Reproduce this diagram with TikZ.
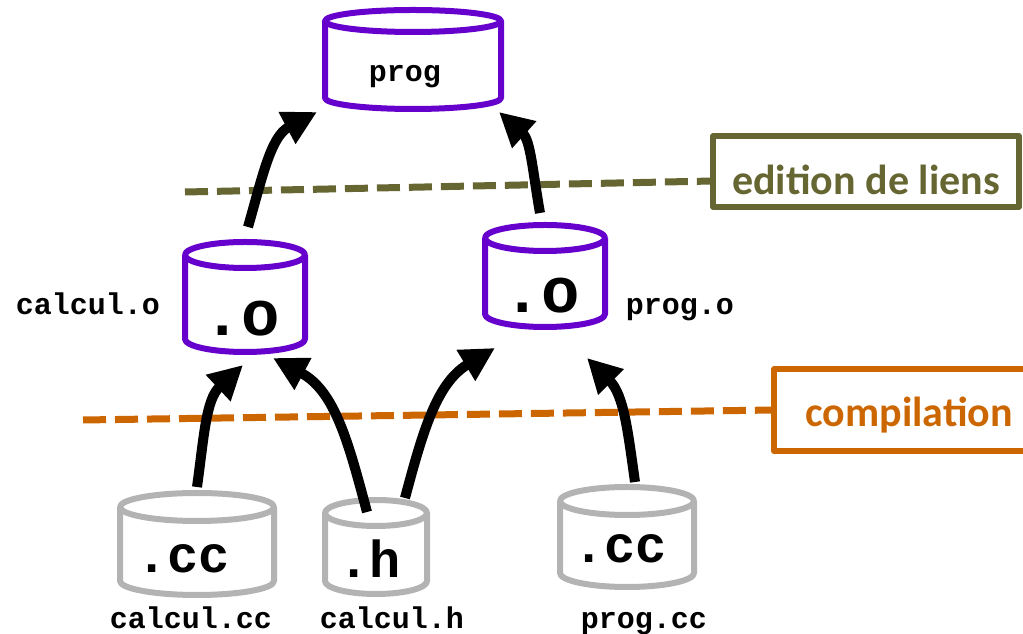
\documentclass[tikz,border=0pt]{standalone}
\usepackage{fontspec}
\setmonofont{Liberation Mono}
\newfontfamily\stagefont{Carlito}
\usetikzlibrary{arrows.meta}

\definecolor{cylpurple}{RGB}{102,0,204}
\definecolor{cylgray}{RGB}{179,179,179}
\definecolor{linkolive}{RGB}{102,102,51}
\definecolor{comporange}{RGB}{204,102,0}

% #1 name, #2 x, #3 top, #4 width, #5 height, #6 y radius, #7 colour
\newcommand{\printCyl}[7]{
  \node [cylbox,minimum width=#4,minimum height=#5] (#1) at (#2,#3-#5/2) {};
  \draw [cylline,draw=#7] (#2-#4/2,#3-#6) -- (#2-#4/2,#3-#5+#6)
    arc [start angle=180,end angle=360,x radius=#4/2,y radius=#6] -- (#2+#4/2,#3-#6);
  \draw [cylline,draw=#7] (#2,#3-#6) ellipse [x radius=#4/2,y radius=#6];
}

\begin{document}
\begin{tikzpicture}[x=1pt,y=1pt,line join=round,
    cylline/.style={line width=6pt},
    cylbox/.style={inner sep=0pt,outer sep=0pt},
    cyltxt/.style={font=\ttfamily\bfseries\fontsize{30}{36}\selectfont,anchor=base,inner sep=0pt},
    objtxt/.style={font=\ttfamily\bfseries\fontsize{64}{70}\selectfont,anchor=base,inner sep=0pt},
    srctxt/.style={font=\ttfamily\bfseries\fontsize{52}{60}\selectfont,anchor=base,inner sep=0pt},
    stagebox/.style={line width=5.5pt,inner sep=0pt,outer sep=0pt},
    stagetxt/.style={font=\stagefont\bfseries\fontsize{42}{48}\selectfont,inner sep=0pt},
    stageline/.style={line width=7pt,dash pattern=on 23pt off 9pt},
    dep/.style={line width=10pt,-{Triangle[length=34pt,width=34pt]}}]
  \useasboundingbox (0,0) rectangle (1023,634);

  \printCyl{prog}{413}{624}{176}{99}{11}{cylpurple}
  \printCyl{calculo}{245}{392}{120}{110}{13}{cylpurple}
  \printCyl{progo}{545}{409}{120}{102}{13}{cylpurple}
  \printCyl{calculcc}{197}{141}{154}{102}{14}{cylgray}
  \printCyl{calculh}{376}{134}{102}{94}{13}{cylgray}
  \printCyl{progcc}{627}{147}{134}{100}{14}{cylgray}

  % edition de liens
  \node [stagebox,draw=linkolive,minimum width=306,minimum height=71] (editbox) at (866,462.5) {};
  \node [stagetxt,text=linkolive] (edittxt) at ([yshift=-8]editbox.center) {edition de liens};
  \coordinate (editstart) at (185,442);
  \draw [stageline,linkolive] (editstart) -- ([yshift=-9.5]editbox.west);

  % compilation
  \node [stagebox,draw=comporange,minimum width=270,minimum height=82] (compbox) at (909,224) {};
  \node [stagetxt,text=comporange] (comptxt) at ([yshift=-5]compbox.center) {compilation};
  \coordinate (compstart) at (83,214);
  \draw [stageline,comporange] (compstart) -- (compbox.west);

  \draw [dep] ([shift={(3,15)}]calculo.north) to [out=74,in=208] ([shift={(-8,-3)}]prog.south west);
  \draw [dep] ([shift={(-5,12)}]progo.north) to [out=100,in=-42] ([shift={(-2,-3)}]prog.south east);
  \draw [dep] ([yshift=6]calculcc.north) to [out=82,in=223] ([shift={(-2,-13)}]calculo.south);
  \draw [dep] ([shift={(-9,-12)}]calculh.north) to [out=105,in=-28] ([shift={(-32,-6)}]calculo.south east);
  \draw [dep] ([shift={(29,2)}]calculh.north) to [out=75,in=211] ([shift={(10,-21)}]progo.south west);
  \draw [dep] ([shift={(8,5)}]progcc.north) to [out=98,in=-45] ([shift={(42,-31)}]progo.south);

  \node [cyltxt] (progtxt) at (405,552) {prog};
  \node [objtxt] (calculotxt) at (242,298) {.o};
  \node [objtxt] (progotxt) at (542,321) {.o};
  \node [srctxt] (calculcctxt) at (183,61) {.cc};
  \node [srctxt] (calculhtxt) at (370,56) {.h};
  \node [srctxt] (progcctxt) at (620,71) {.cc};

  \node [cyltxt] (calculolbl) at (88,319) {calcul.o};
  \node [cyltxt] (progolbl) at (680,319) {prog.o};
  \node [cyltxt] (calculcclbl) at (191,5) {calcul.cc};
  \node [cyltxt] (calculhlbl) at (392,5) {calcul.h};
  \node [cyltxt] (progcclbl) at (644,5) {prog.cc};
\end{tikzpicture}
\end{document}
